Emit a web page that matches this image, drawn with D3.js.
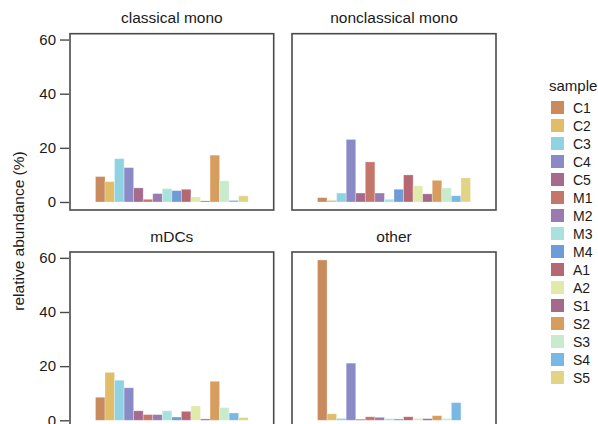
<!DOCTYPE html>
<html><head><meta charset="utf-8">
<script src="https://cdn.jsdelivr.net/npm/d3@7"></script>
<style>body{margin:0;background:#fff}svg{display:block}text{font-family:"Liberation Sans",Arial,sans-serif}</style>
</head><body><svg id="c" width="598" height="424"></svg>
<script>
const samples = ["C1","C2","C3","C4","C5","M1","M2","M3","M4","A1","A2","S1","S2","S3","S4","S5"];
const colors = ["#c98a5e","#e2bd68","#8fd3e3","#8a8bc6","#a56a8c","#c5766a","#9a7bb0","#a9e2dc","#6f9bd8","#b66872","#e1eaaa","#a36a8c","#d79d5e","#c9ebcd","#79b8e4","#e2d485"];
const panels = ["classical mono","nonclassical mono","mDCs","other"];
const classicalMono    = [9.4,7.5,16.0,12.7,5.2,1.0,3.1,4.9,4.2,4.7,1.85,0.4,17.3,7.8,0.6,2.3];
const nonclassicalMono = [1.6,0.6,3.3,23.1,3.3,14.8,3.3,1.0,4.7,10.0,6.0,3.0,8.0,5.2,2.3,8.9];
const mDCs             = [8.5,17.7,14.8,12.0,3.5,2.1,2.1,3.5,1.2,3.3,5.3,0.5,14.4,4.7,2.7,1.0];
const other            = [59.2,2.4,0.7,21.1,0.4,1.3,1.1,0.6,0.5,1.3,0.7,0.6,1.7,0.7,6.5,0.0];
const yTicks = [0,20,40,60];
const yLabel = "relative abundance (%)";
const legendTitle = "sample";

const seriesByPanel = [classicalMono, nonclassicalMono, mDCs, other];
const svg = d3.select("#c");
const colX = [[70,273.7],[292,496]];
const rowY = [[33.7,210],[252,428.3]];
const maxV = d3.max(seriesByPanel.flat());
const color = d3.scaleOrdinal().domain(samples).range(colors);
const border = "#4a4a4a";

panels.forEach((name,i)=>{
  const c = i%2, r = Math.floor(i/2);
  const [x0,x1] = colX[c], [y0,y1] = rowY[r];
  const w = x1-x0;
  const x = d3.scaleBand().domain(samples).range([x0+w*0.125, x1-w*0.125]).padding(0);
  const y = d3.scaleLinear().domain([-0.05*maxV, 1.05*maxV]).range([y1,y0]);
  const g = svg.append("g");
  g.selectAll("rect.bar").data(seriesByPanel[i].map((v,k)=>({s:samples[k],v})))
    .join("rect").attr("class","bar")
    .attr("x",d=>x(d.s)).attr("width",x.bandwidth())
    .attr("y",d=>y(d.v)).attr("height",d=>y(0)-y(d.v))
    .attr("fill",d=>color(d.s))
    .attr("stroke","#ffffff").attr("stroke-opacity",0.35).attr("stroke-width",0.8);
  g.append("rect").attr("x",x0).attr("y",y0).attr("width",w).attr("height",y1-y0)
    .attr("fill","none").attr("stroke",border).attr("stroke-width",1.6);
  g.append("text").attr("x",(x0+x1)/2).attr("y",y0-10.5).attr("text-anchor","middle")
    .attr("font-size","15.5px").attr("fill","#1a1a1a").text(name);
  if(c===0){
    const ax = svg.append("g").attr("transform",`translate(${x0-1},0)`)
      .call(d3.axisLeft(y).tickValues(yTicks).tickSize(9).tickPadding(4));
    ax.select(".domain").remove();
    ax.selectAll(".tick line").attr("stroke",border).attr("stroke-width",1.4);
    ax.selectAll(".tick text").attr("font-size","15px").attr("fill","#1a1a1a")
      .style("font-family","'Liberation Sans',Arial,sans-serif");
  }
});

svg.append("text").attr("transform","translate(24,231) rotate(-90)")
  .attr("text-anchor","middle").attr("font-size","15.5px").attr("fill","#1a1a1a").text(yLabel);

const lg = svg.append("g");
lg.append("text").attr("x",549).attr("y",91).attr("font-size","15px").attr("fill","#1a1a1a").text(legendTitle);
samples.forEach((s,k)=>{
  lg.append("rect").attr("x",551).attr("y",101+k*18).attr("width",13).attr("height",13).attr("fill",color(s));
  lg.append("text").attr("x",573).attr("y",101+k*18+11.5).attr("font-size","14px").attr("fill","#1a1a1a").text(s);
});
</script></body></html>
